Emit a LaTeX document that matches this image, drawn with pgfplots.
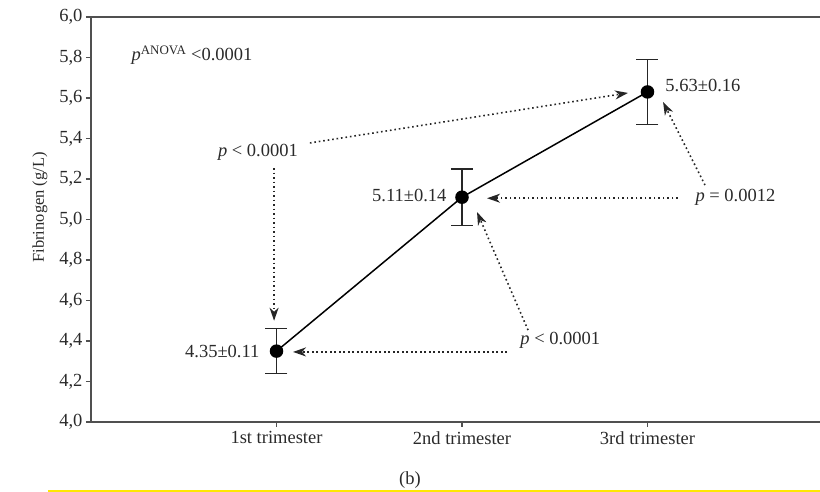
\documentclass[border=0pt]{standalone}
\usepackage{fontspec}
\setmainfont{Liberation Serif}
\usepackage{pgfplots}
\pgfplotsset{compat=1.18}
\usetikzlibrary{arrows.meta}
\definecolor{axgray}{HTML}{505050}
\definecolor{txt}{HTML}{2A2A2A}
\newcommand{\annfont}{\fontsize{18.5}{22}\selectfont}
\begin{document}
\begin{tikzpicture}[
  ann/.style={draw=black!85, line width=1.6pt, dash pattern=on 1.6pt off 2.9pt,
    -{Stealth[length=13pt,width=9pt,inset=4pt]}},
]
\path[use as bounding box] (-91pt,-70pt) rectangle (729pt,422pt);
\begin{axis}[
  scale only axis, width=729pt, height=405pt,
  xmin=0, xmax=3.93, ymin=4, ymax=6,
  axis x line*=box, axis y line*=left,
  xtick={1,2,3},
  xticklabels={1st trimester, 2nd trimester, 3rd trimester},
  xtick pos=lower,
  ytick={4,4.2,4.4,4.6,4.8,5,5.2,5.4,5.6,5.8,6},
  tick align=outside,
  major tick length=5pt,
  axis line style={axgray, line width=1.5pt},
  tick style={axgray, line width=1.2pt},
  yticklabel style={/pgf/number format/.cd, fixed, fixed zerofill, precision=1, use comma, assume math mode=true},
  every tick label/.append style={font=\fontsize{18.5}{22}\selectfont, text=txt},
  xticklabel style={yshift=-1pt},
  ylabel={Fibrinogen (g/L)},
  every axis y label/.style={at={(axis description cs:-0.07,0.53)}, rotate=90, anchor=center, font=\fontsize{16.5}{20}\selectfont, text=txt},
  clip=false,
]
\addplot[black, line width=1.5pt, mark=*, mark size=6pt, mark options={solid, fill=black},
  error bars/.cd, y dir=both, y explicit,
  error bar style={line width=1.3pt, black!85},
  error mark options={rotate=90, mark size=11pt, line width=1.3pt, black!85}]
  coordinates {(1,4.35) +- (0,0.11) (2,5.11) +- (0,0.14) (3,5.63) +- (0,0.16)};

\node[anchor=west, font=\annfont, text=txt] at (axis cs:0.2,5.81) {\textit{p}\textsuperscript{ANOVA} <0.0001};
\node[font=\annfont, text=txt] at (axis cs:0.90,5.333) {\textit{p} < 0.0001};
\draw[ann] (axis cs:1.18,5.378) -- (axis cs:2.895,5.625);
\draw[ann] (axis cs:0.987,5.254) -- (axis cs:0.987,4.50);
\node[anchor=east, font=\annfont, text=txt] at (axis cs:0.927,4.35) {4.35±0.11};
\node[anchor=east, font=\annfont, text=txt] at (axis cs:1.935,5.12) {5.11±0.14};
\node[anchor=west, font=\annfont, text=txt] at (axis cs:3.078,5.664) {5.63±0.16};
\node[anchor=west, font=\annfont, text=txt] at (axis cs:3.24,5.111) {\textit{p} = 0.0012};
\draw[ann] (axis cs:3.164,5.105) -- (axis cs:2.135,5.105);
\draw[ann] (axis cs:3.31,5.17) -- (axis cs:3.084,5.58);
\node[anchor=west, font=\annfont, text=txt] at (axis cs:2.296,4.405) {\textit{p} < 0.0001};
\draw[ann] (axis cs:2.243,4.346) -- (axis cs:1.089,4.346);
\draw[ann] (axis cs:2.356,4.454) -- (axis cs:2.081,5.037);
\end{axis}
\node[font=\fontsize{18.5}{22}\selectfont, text=txt] at (319pt,-58pt) {(b)};
\draw[yellow!90!orange, line width=1.5pt] (-43pt,-69.2pt) -- (729pt,-69.2pt);
\end{tikzpicture}
\end{document}
